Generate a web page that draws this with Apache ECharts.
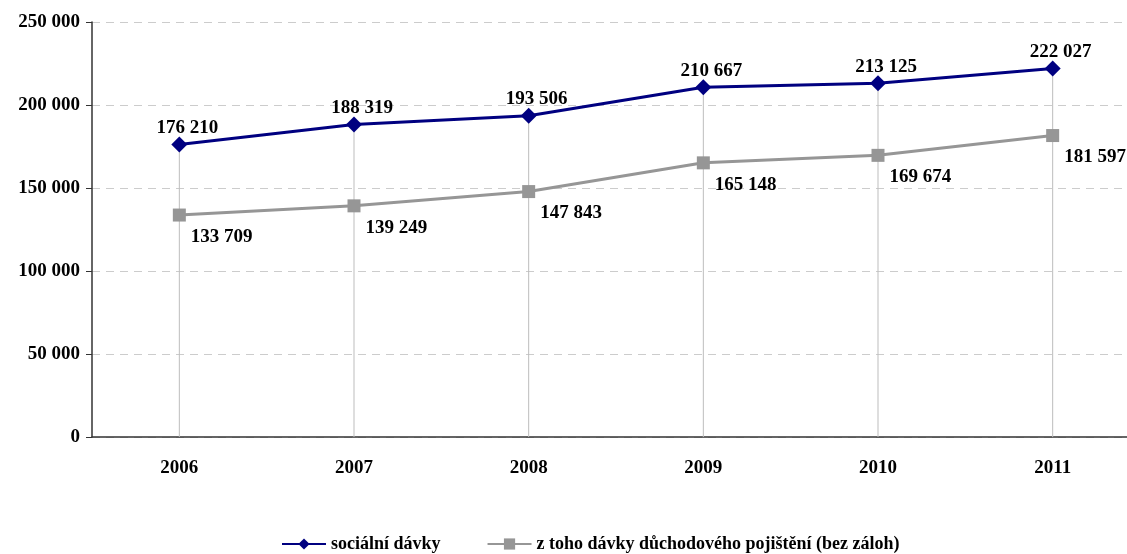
<!DOCTYPE html>
<html>
<head>
<meta charset="utf-8">
<script src="https://cdn.jsdelivr.net/npm/echarts@6/dist/echarts.min.js"></script>
<style>
  html, body { margin: 0; padding: 0; background: #fff; }
  #chart { width: 1127px; height: 554px; }
</style>
</head>
<body>
<div id="chart"></div>
<script>
// data
const years = ["2006", "2007", "2008", "2009", "2010", "2011"];
const socialni = [176210, 188319, 193506, 210667, 213125, 222027];
const duchodove = [133709, 139249, 147843, 165148, 169674, 181597];
const seriesNames = ["sociální dávky", "z toho dávky důchodového pojištění (bez záloh)"];

const font = "'Liberation Serif', 'Times New Roman', serif";
// 176210 -> "176 210"
const fmt = (v) => String(v).replace(/\B(?=(\d{3})+(?!\d))/g, " ");

const chart = echarts.init(document.getElementById("chart"));

const options = {
  animation: false,
  textStyle: { fontFamily: font },
  grid: {
    left: 92,
    top: 22,
    width: 1048,
    height: 415,
    outerBoundsMode: "none",
  },
  legend: {
    bottom: -4,
    left: 276,
    itemWidth: 44,
    itemHeight: 14,
    itemGap: 46,
    data: seriesNames,
    textStyle: { fontFamily: font, fontWeight: "bold", fontSize: 18, color: "#000" },
  },
  xAxis: {
    type: "category",
    data: years,
    axisLine: { lineStyle: { color: "#333", width: 1.5 } },
    axisTick: { show: false },
    axisLabel: {
      margin: 22,
      fontFamily: font,
      fontWeight: "bold",
      fontSize: 19,
      color: "#000",
    },
  },
  yAxis: {
    type: "value",
    min: 0,
    max: 250000,
    interval: 50000,
    axisLine: { show: true, lineStyle: { color: "#333", width: 1.5 } },
    axisTick: { show: true, length: 6, lineStyle: { color: "#333" } },
    splitLine: { lineStyle: { color: "#ccc", type: [8, 6] } },
    axisLabel: {
      margin: 12,
      fontFamily: font,
      fontWeight: "bold",
      fontSize: 19,
      color: "#000",
      formatter: fmt,
    },
  },
  series: [
    {
      // svislé čáry od bodu k ose
      type: "bar",
      data: socialni,
      barWidth: 1,
      silent: true,
      itemStyle: { color: "#bdbdbd" },
      z: 1,
    },
    {
      name: seriesNames[0],
      type: "line",
      data: socialni,
      symbol: "diamond",
      symbolSize: 16,
      lineStyle: { color: "#000080", width: 3 },
      itemStyle: { color: "#000080" },
      label: {
        show: true,
        position: "top",
        distance: 2,
        offset: [8, 3],
        fontFamily: font,
        fontWeight: "bold",
        fontSize: 19,
        color: "#000",
        formatter: (p) => fmt(p.value),
      },
      z: 3,
    },
    {
      name: seriesNames[1],
      type: "line",
      data: duchodove,
      symbol: "rect",
      symbolSize: 13,
      lineStyle: { color: "#969696", width: 3 },
      itemStyle: { color: "#969696" },
      label: {
        show: true,
        position: [18, 19],
        fontFamily: font,
        fontWeight: "bold",
        fontSize: 19,
        color: "#000",
        formatter: (p) => fmt(p.value),
      },
      z: 2,
    },
  ],
};

chart.setOption(options);
</script>
</body>
</html>
